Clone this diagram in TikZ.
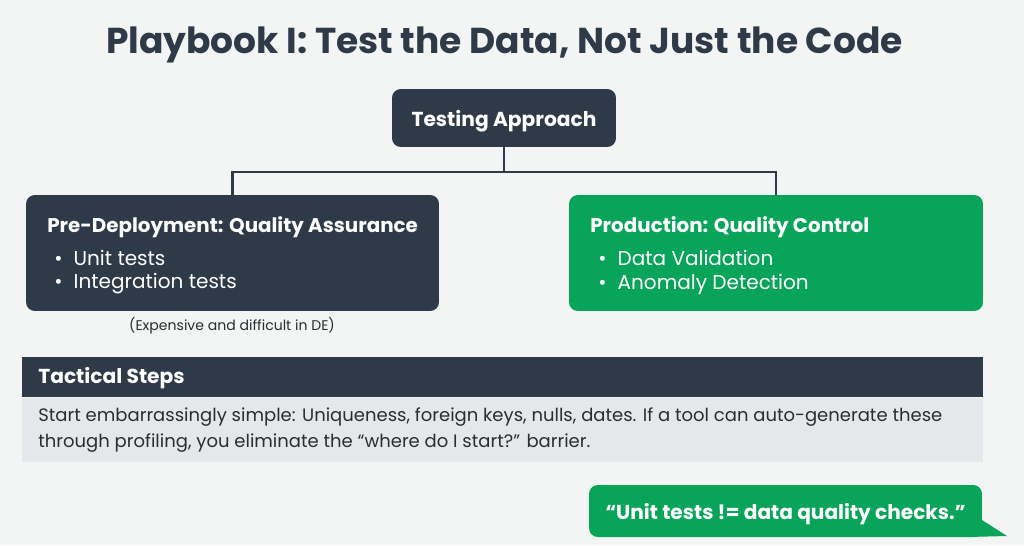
\documentclass[tikz,border=0pt]{standalone}
\usepackage{fontspec}
\setmainfont{Poppins}
\usetikzlibrary{positioning}
\definecolor{slate}{HTML}{2F3A48}
\definecolor{leaf}{HTML}{08A45A}
\definecolor{paper}{HTML}{F3F5F4}
\definecolor{mist}{HTML}{E5E8EA}
\definecolor{ink}{HTML}{2A2D31}
\tikzset{
  panel/.style={rounded corners=5pt,inner sep=0pt},
  boxhead/.style={anchor=west,text=white,font=\bfseries\fontsize{11.3}{14}\selectfont,inner sep=0pt},
  boxitem/.style={anchor=west,text=white,font=\fontsize{11.4}{14}\selectfont,inner sep=0pt},
  link/.style={draw=slate,line width=1.2pt}
}
\begin{document}
\begin{tikzpicture}[x=0.02cm,y=-0.02cm]
% page and margins
\fill[paper] (0,0) rectangle (1024,545);
\useasboundingbox (0,0) rectangle (1024,545);
\node[text=slate,font=\bfseries\fontsize{20.5}{24}\selectfont] (title) at (504.5,45) {Playbook I: Test the Data, Not Just the Code};
% tree
\node[panel,fill=slate,minimum width=4.48cm,minimum height=1.16cm,text depth=0pt,text=white,font=\bfseries\fontsize{11.5}{14}\selectfont] (root) at (504,118) {Testing Approach};
\node[panel,fill=slate,minimum width=8.26cm,minimum height=2.32cm] (qa) at (232.5,253) {};
\node[panel,fill=leaf,minimum width=8.28cm,minimum height=2.32cm] (qc) at (776,253) {};
\coordinate (fork) at (504,172);
\draw[link] (root.south) -- (fork);
\draw[link] (qa.north) |- (fork) -| (qc.north);
% left box
\node[boxhead] (qahead) at (47,227) {Pre-Deployment: Quality Assurance};
\node[boxitem] (qa1) at (54,258) {•\hspace{0.55em}Unit tests};
\node[boxitem] (qa2) at (54,284) {•\hspace{0.55em}Integration tests};
\node[text=ink,font=\fontsize{8}{10}\selectfont] (qanote) at (232,326) {(Expensive and difficult in DE)};
% right box
\node[boxhead] (qchead) at (590,227) {Production: Quality Control};
\node[boxitem] (qc1) at (598,258) {•\hspace{0.55em}Data Validation};
\node[boxitem] (qc2) at (598,284) {•\hspace{0.55em}Anomaly Detection};
% tactical steps
\node[fill=slate,minimum width=19.22cm,minimum height=0.8cm,inner sep=0pt] (steps) at (502.5,377) {};
\node[fill=mist,minimum width=19.22cm,minimum height=1.28cm,inner sep=0pt,below=0pt of steps] (stepsbody) {};
\node[anchor=west,text=white,font=\bfseries\fontsize{11.5}{14}\selectfont,inner sep=0pt] (stepshead) at (38,378) {Tactical Steps};
\node[anchor=north west,text=ink,font=\fontsize{10.25}{15}\selectfont,align=left,inner sep=0pt] (stepstext) at (38,407)
  {Start embarrassingly simple: Uniqueness, foreign keys, nulls, dates. If a tool can auto-generate these\\through profiling, you eliminate the “where do I start?” barrier.};
% quote bubble
\coordinate (tip) at (1007,536);
\fill[leaf] (968,537) -- (982,520) -- (tip) -- cycle;
\node[panel,fill=leaf,minimum width=7.86cm,minimum height=1.04cm,text depth=0pt,text=white,font=\bfseries\fontsize{11.45}{14}\selectfont] (quote) at (785.5,511) {“Unit tests != data quality checks.”};
\end{tikzpicture}
\end{document}
